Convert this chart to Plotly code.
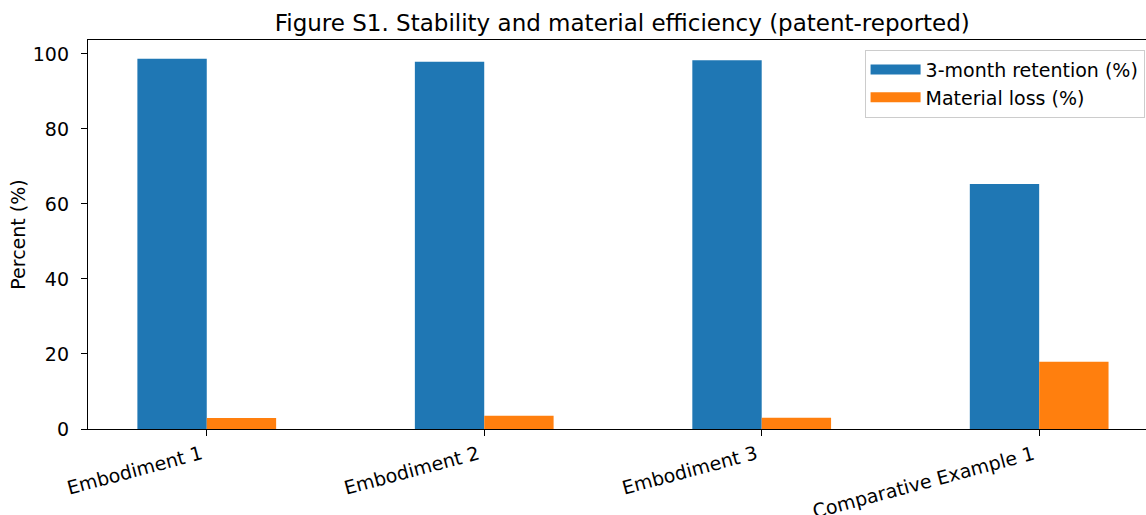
import plotly.graph_objects as go

categories = ["Embodiment 1", "Embodiment 2", "Embodiment 3", "Comparative Example 1"]
retention = [98.7, 97.9, 98.3, 65.3]
material_loss = [2.9, 3.5, 3.0, 17.9]
y_ticks = [0, 20, 40, 60, 80, 100]

BLUE = "#1f77b4"
ORANGE = "#ff7f0e"
FONT = "DejaVu Sans"
FS = 19

fig = go.Figure()
fig.add_trace(go.Bar(x=categories, y=retention, name="3-month retention (%)",
                     marker=dict(color=BLUE, line=dict(width=0)), showlegend=False))
fig.add_trace(go.Bar(x=categories, y=material_loss, name="Material loss (%)",
                     marker=dict(color=ORANGE, line=dict(width=0)), showlegend=False))
# legend proxies (rectangular swatches like the reference)
fig.add_trace(go.Scatter(x=[None], y=[None], mode="lines", name="3-month retention (%)",
                         line=dict(color=BLUE, width=13)))
fig.add_trace(go.Scatter(x=[None], y=[None], mode="lines", name="Material loss (%)",
                         line=dict(color=ORANGE, width=13)))

# rotated category labels, right-aligned at their tick (like the reference)
for c in categories:
    fig.add_annotation(x=c, xref="x", y=0, yref="paper", text=c, showarrow=False,
                       textangle=-15, xanchor="right", yanchor="top", yshift=-10,
                       font=dict(family=FONT, size=FS, color="black"))

fig.update_layout(
    width=1146, height=515,
    margin=dict(l=88, r=0, t=40, b=86),
    paper_bgcolor="white", plot_bgcolor="white",
    font=dict(family=FONT, size=FS, color="black"),
    barmode="group", bargap=0.5, bargroupgap=0,
    title=dict(text="Figure S1. Stability and material efficiency (patent-reported)",
               x=0.505, xref="paper", xanchor="center", y=0.955, yref="container",
               yanchor="middle", font=dict(family=FONT, size=23, color="black")),
    legend=dict(x=0.734, y=0.975, xanchor="left", yanchor="top",
                bordercolor="#cccccc", borderwidth=1, bgcolor="rgba(255,255,255,0.8)",
                font=dict(family=FONT, size=FS), itemwidth=50, tracegroupgap=0),
    xaxis=dict(type="category", range=[-0.428, 3.385], showgrid=False, automargin=False,
               showline=True, linecolor="black", linewidth=1.3, mirror=True,
               ticks="outside", ticklen=6, tickwidth=1.3, tickcolor="black",
               showticklabels=False, zeroline=False),
    yaxis=dict(range=[0, 103.7], tickvals=y_ticks, showgrid=False, automargin=False,
               showline=True, linecolor="black", linewidth=1.3, mirror=False,
               ticks="outside", ticklen=6, tickwidth=1.3, tickcolor="black",
               ticklabelstandoff=8, zeroline=False,
               tickfont=dict(family=FONT, size=FS),
               title=dict(text="Percent (%)", standoff=2, font=dict(family=FONT, size=FS))),
)

fig.write_html("out.html", post_script="document.body.style.margin='0';",
               config={"displayModeBar": False})
